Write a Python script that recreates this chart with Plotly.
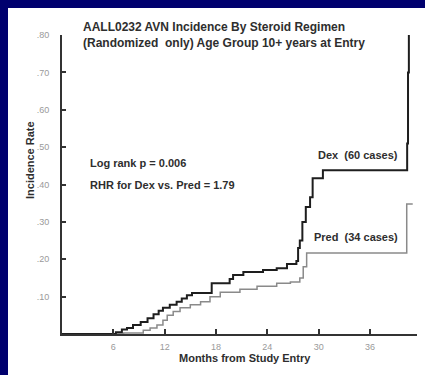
import plotly.graph_objects as go

# ---- data ----
dex_months = [0, 6.3, 7.0, 7.6, 8.3, 9.2, 10.0, 10.7, 11.3, 11.8, 12.6, 13.4, 14.0, 14.6,
              15.2, 17.5, 19.6, 20.0, 21.2, 23.5, 25.1, 26.3, 27.4, 27.6, 27.8, 28.1,
              28.5, 29.0, 29.3, 30.5, 40.35, 40.45, 40.55]
dex_rate = [0, 0.005, 0.012, 0.016, 0.024, 0.032, 0.042, 0.053, 0.062, 0.070, 0.078, 0.086,
            0.095, 0.104, 0.110, 0.136, 0.147, 0.158, 0.166, 0.171, 0.176, 0.187, 0.195,
            0.230, 0.250, 0.300, 0.340, 0.366, 0.417, 0.438, 0.510, 0.700, 0.800]

pred_months = [0, 7.2, 9.5, 10.3, 11.1, 11.8, 12.3, 13.0, 13.8, 15.0, 16.2, 17.3, 18.5,
               20.8, 22.8, 25.1, 26.7, 27.8, 28.2, 28.6, 40.3, 41.0]
pred_rate = [0, 0.003, 0.010, 0.016, 0.024, 0.037, 0.050, 0.060, 0.070, 0.078, 0.086, 0.100,
             0.112, 0.120, 0.128, 0.136, 0.139, 0.150, 0.180, 0.217, 0.348, 0.348]

x_ticks = [6, 12, 18, 24, 30, 36]
y_ticks = [0.10, 0.20, 0.30, 0.40, 0.50, 0.60, 0.70, 0.80]
y_tick_labels = [".10", ".20", ".30", ".40", ".50", ".60", ".70", ".80"]

title_lines = ["AALL0232 AVN Incidence By Steroid Regimen",
               "(Randomized  only) Age Group 10+ years at Entry"]
stats_lines = ["Log rank p = 0.006", "RHR for Dex vs. Pred = 1.79"]
series_labels = ["Dex  (60 cases)", "Pred  (34 cases)"]

# ---- figure ----
W, H = 425, 375
L, R, T, B = 62, 8, 35, 41
pw, ph = W - L - R, H - T - B

def px(x):
    return (x - L) / pw

def py(y):
    return (H - B - y) / ph

FONT = "Liberation Sans, Arial, sans-serif"
DARK = "#2e2e2e"
NAVY = "#00006e"

fig = go.Figure()
fig.add_trace(go.Scatter(x=pred_months, y=pred_rate, mode="lines", line_shape="hv",
                         line=dict(color="#8a8a8a", width=1.5), showlegend=False,
                         hoverinfo="skip"))
fig.add_trace(go.Scatter(x=dex_months, y=dex_rate, mode="lines", line_shape="hv",
                         line=dict(color="#1e1e1e", width=2), showlegend=False,
                         hoverinfo="skip"))

# navy frame on the left and top
fig.add_shape(type="rect", xref="paper", yref="paper",
              x0=px(0), x1=px(8), y0=py(H), y1=py(0),
              fillcolor=NAVY, line_width=0, layer="below")
fig.add_shape(type="rect", xref="paper", yref="paper",
              x0=px(0), x1=px(W), y0=py(8), y1=py(0),
              fillcolor=NAVY, line_width=0, layer="below")

ann = []
for i, t in enumerate(title_lines):
    ann.append(dict(text=t, x=px(81), y=py(27 + 16 * i), xanchor="left", yanchor="middle",
                    font=dict(size=12, color=DARK, family=FONT)))
for i, t in enumerate(stats_lines):
    ann.append(dict(text=t, x=px(88), y=py(163 + 22 * i), xanchor="left", yanchor="middle",
                    font=dict(size=11, color=DARK, family=FONT)))
ann.append(dict(text=series_labels[0], x=px(400), y=py(155), xanchor="right", yanchor="middle",
                font=dict(size=11, color=DARK, family=FONT)))
ann.append(dict(text=series_labels[1], x=px(400), y=py(237), xanchor="right", yanchor="middle",
                font=dict(size=11, color=DARK, family=FONT)))
ann.append(dict(text="Incidence Rate", x=px(30), y=py(160), textangle=-90,
                xanchor="center", yanchor="middle",
                font=dict(size=11, color=DARK, family=FONT)))
ann.append(dict(text="Months from Study Entry", x=px(245), y=py(358),
                xanchor="center", yanchor="middle",
                font=dict(size=11, color=DARK, family=FONT)))
for a in ann:
    a.update(xref="paper", yref="paper", showarrow=False)
    a["text"] = "<b>" + a["text"] + "</b>"

fig.update_layout(
    width=W, height=H,
    margin=dict(l=L, r=R, t=T, b=B, pad=0),
    paper_bgcolor="white", plot_bgcolor="white",
    annotations=ann,
    xaxis=dict(range=[0, 41.5], tickvals=x_ticks, ticks="inside", ticklen=5,
               tickwidth=1.5, tickcolor="#333", showline=True, linecolor="#333",
               linewidth=2, showgrid=False, zeroline=False, ticklabelstandoff=3,
               tickfont=dict(size=9, color="#9a9a9a", family=FONT)),
    yaxis=dict(range=[0, 0.80], tickvals=y_ticks, ticktext=y_tick_labels, ticks="inside",
               ticklen=4, tickwidth=1.5, tickcolor="#333", showline=True, linecolor="#333",
               linewidth=2, showgrid=False, zeroline=False, ticklabelstandoff=9,
               tickfont=dict(size=9, color="#9a9a9a", family=FONT)),
)

fig.write_html("out.html")
